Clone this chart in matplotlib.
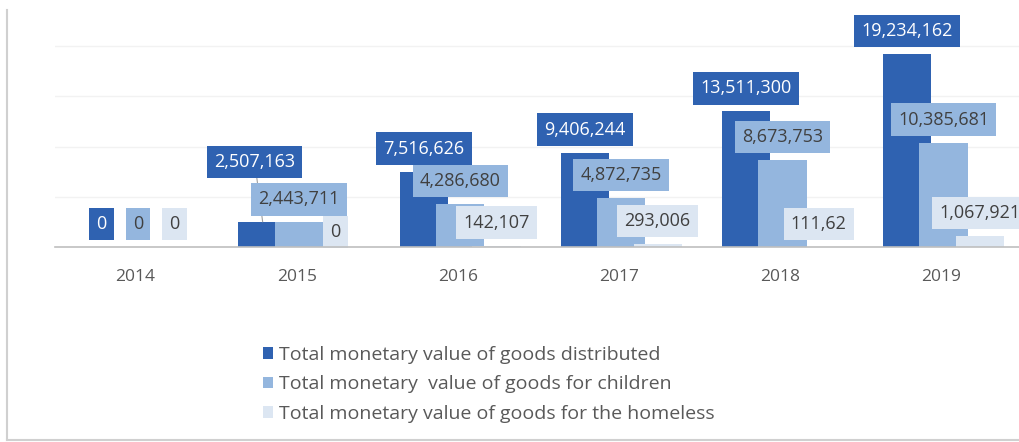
import matplotlib.pyplot as plt
from matplotlib.lines import Line2D

years = ['2014', '2015', '2016', '2017', '2018', '2019']
distributed = [0, 2507163, 7516626, 9406244, 13511300, 19234162]
children = [0, 2443711, 4286680, 4872735, 8673753, 10385681]
homeless = [0, 0, 142107, 293006, 11162, 1067921]
homeless_labels = ['0', '0', '142,107', '293,006', '111,62', '1,067,921']

names = ['Total monetary value of goods distributed',
         'Total monetary  value of goods for children',
         'Total monetary value of goods for the homeless']
colors = ['#2F62B1', '#94B6DE', '#DCE6F2']
text_colors = ['white', '#404040', '#404040']

plt.rcParams['font.family'] = ['Open Sans', 'DejaVu Sans']

fig = plt.figure(figsize=(10.2, 4.42), dpi=100)
ax = fig.add_axes([55 / 1020, 1 - 247 / 442, 965 / 1020, 232 / 442])

step = 0.226
width = 0.30
series = [distributed, children, homeless]
labels = [[f'{v:,}' for v in distributed], [f'{v:,}' for v in children], homeless_labels]

for i, vals in enumerate(series):
    xs = [k + (i - 1) * step + 0.015 for k in range(len(years))]
    ax.bar(xs, vals, width=width, color=colors[i], label=names[i], zorder=2 + i)
    for k, (x, v) in enumerate(zip(xs, vals)):
        dy = 23
        dx = 0
        arrow = None
        if k == 1 and i == 0:
            dy, dx = 60, -8
            arrow = dict(arrowstyle='-', color='#A0A0A0', lw=0.8, shrinkA=0, shrinkB=0)
        if k == 1 and i == 2:
            dy = 15
        ax.annotate(labels[i][k], (x, v), xytext=(dx, dy), textcoords='offset pixels',
                    ha='center', va='center', fontsize=13, color=text_colors[i],
                    zorder=10 + i, arrowprops=arrow,
                    bbox=dict(boxstyle='square,pad=0.4', fc=colors[i], ec='none'))

ax.set_xlim(-0.5, 5.49)
ax.set_ylim(0, 23100000)
ax.set_yticks([5e6, 10e6, 15e6, 20e6])
ax.yaxis.grid(True, color='#F2F2F2', lw=1)
ax.set_axisbelow(True)
ax.tick_params(axis='y', left=False, labelleft=False)
ax.tick_params(axis='x', length=0, pad=16, labelsize=12.5, labelcolor='#595959')
ax.set_xticks(range(len(years)))
ax.set_xticklabels(years)
for s in ['top', 'right', 'left']:
    ax.spines[s].set_visible(False)
ax.spines['bottom'].set_color('#BFBFBF')
ax.spines['bottom'].set_linewidth(1.2)
ax.spines['bottom'].set_zorder(20)

leg = fig.legend(loc='upper left', bbox_to_anchor=(255 / 1020, 1 - 338 / 442),
                 frameon=False, fontsize=14, handlelength=0.55, handleheight=0.55,
                 handletextpad=0.3, labelspacing=0.6, borderaxespad=0)
for t in leg.get_texts():
    t.set_color('#595959')

fig.add_artist(Line2D([7 / 1020, 7 / 1020], [0.005, 1 - 10 / 442], color='#D0D0D0', lw=1.5))
fig.add_artist(Line2D([7 / 1020, 1], [0.005, 0.005], color='#D0D0D0', lw=1.5))

fig.savefig('out.png', dpi=100)
